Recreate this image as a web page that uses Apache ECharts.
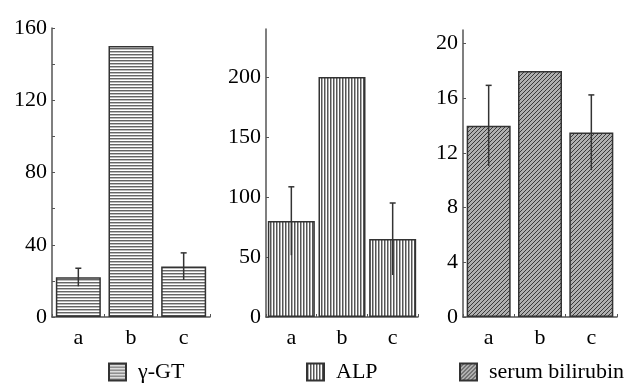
<!DOCTYPE html>
<html>
<head>
<meta charset="utf-8">
<script src="https://cdn.jsdelivr.net/npm/echarts@6/dist/echarts.min.js"></script>
<style>
  html, body { margin: 0; padding: 0; background: #fff; }
  #chart { width: 636px; height: 385px; }
</style>
</head>
<body>
<div id="chart"></div>
<script>
// data
var categories = ['a', 'b', 'c'];
var ggtValues = [22, 150, 28];
var ggtErrors = [5, 0, 7.5];
var alpValues = [80, 200, 65];
var alpErrors = [28.5, 0, 30];
var bilValues = [14, 18, 13.5];
var bilErrors = [2.95, 0, 2.75];
var ggtTicks = [0, 40, 80, 120, 160];
var alpTicks = [0, 50, 100, 150, 200];
var bilTicks = [0, 4, 8, 12, 16, 20];

var FONT = '"Liberation Serif", "DejaVu Serif", serif';
var INK = '#333';

// hatch patterns
function makePattern(kind) {
  var c = document.createElement('canvas');
  var ctx = c.getContext('2d');
  if (kind === 'h') {
    c.width = 6; c.height = 3;
    ctx.fillStyle = '#fff'; ctx.fillRect(0, 0, 6, 3);
    ctx.fillStyle = '#666'; ctx.fillRect(0, 0, 6, 1);
    ctx.fillStyle = '#bbb'; ctx.fillRect(0, 1, 6, 1);
  } else if (kind === 'v') {
    c.width = 3; c.height = 6;
    ctx.fillStyle = '#fff'; ctx.fillRect(0, 0, 3, 6);
    ctx.fillStyle = '#555'; ctx.fillRect(0, 0, 1, 6);
    ctx.fillStyle = '#aaa'; ctx.fillRect(1, 0, 1, 6);
  } else {
    c.width = 4; c.height = 4;
    ctx.fillStyle = '#b0b0b0'; ctx.fillRect(0, 0, 4, 4);
    ctx.fillStyle = '#3a3a3a';
    for (var i = 0; i < 4; i++) ctx.fillRect(i, 3 - i, 1, 1);
  }
  return { image: c, repeat: 'repeat' };
}

function errBars(vals, errs) {
  return vals.map(function (v, i) { return [i, v, errs[i]]; });
}

function renderErr(params, api) {
  var e = api.value(2);
  if (!e) return;
  var i = api.value(0), v = api.value(1);
  var top = api.coord([i, v + e]);
  var bot = api.coord([i, v - e]);
  var st = { stroke: INK, lineWidth: 1.5 };
  return {
    type: 'group',
    children: [
      { type: 'line', shape: { x1: top[0], y1: top[1], x2: bot[0], y2: bot[1] }, style: st },
      { type: 'line', shape: { x1: top[0] - 3, y1: top[1], x2: top[0] + 3, y2: top[1] }, style: st }
    ]
  };
}

function xAxisFor(idx) {
  return {
    type: 'category', gridIndex: idx, data: categories,
    axisLine: { lineStyle: { color: '#555', width: 1.5 } },
    axisTick: { show: true, inside: true, length: 3, lineStyle: { color: '#555' } },
    axisLabel: { fontFamily: FONT, fontSize: 22, color: '#000', margin: 10 }
  };
}

function yAxisFor(idx, max, labelVals, tickVals) {
  return {
    type: 'value', gridIndex: idx, min: 0, max: max,
    splitLine: { show: false },
    axisLine: { show: true, lineStyle: { color: '#555', width: 1.5 } },
    axisTick: { show: true, inside: true, length: 3, customValues: tickVals, lineStyle: { color: '#555' } },
    axisLabel: { fontFamily: FONT, fontSize: 22, color: '#000', margin: 5, customValues: labelVals }
  };
}

function legendFor(name, left) {
  return {
    data: [name], left: left, top: 361, padding: 0,
    icon: 'rect', itemWidth: 17, itemHeight: 17, itemGap: 0,
    textStyle: { fontFamily: FONT, fontSize: 22, color: '#000', padding: [0, 0, 0, 7] }
  };
}

var chart = echarts.init(document.getElementById('chart'));
var barBorder = { borderColor: INK, borderWidth: 1.5 };

chart.setOption({
  animation: false,
  backgroundColor: '#fff',
  grid: [
    { left: 52, top: 28, width: 158, height: 289 },
    { left: 266, top: 29, width: 152, height: 288 },
    { left: 463, top: 30, width: 154, height: 287 }
  ],
  xAxis: [xAxisFor(0), xAxisFor(1), xAxisFor(2)],
  yAxis: [
    yAxisFor(0, 160, ggtTicks, [0, 20, 40, 60, 80, 100, 120, 140, 160]),
    yAxisFor(1, 240, alpTicks, alpTicks),
    yAxisFor(2, 21, bilTicks, bilTicks)
  ],
  legend: [
    legendFor('γ-GT', 108),
    legendFor('ALP', 306),
    legendFor('serum bilirubin', 459)
  ],
  series: [
    { name: 'γ-GT', type: 'bar', xAxisIndex: 0, yAxisIndex: 0, barWidth: 45, data: ggtValues,
      itemStyle: Object.assign({ color: makePattern('h') }, barBorder) },
    { name: 'ALP', type: 'bar', xAxisIndex: 1, yAxisIndex: 1, barWidth: 47, data: alpValues,
      itemStyle: Object.assign({ color: makePattern('v') }, barBorder) },
    { name: 'serum bilirubin', type: 'bar', xAxisIndex: 2, yAxisIndex: 2, barWidth: 44, data: bilValues,
      itemStyle: Object.assign({ color: makePattern('d') }, barBorder) },
    { type: 'custom', xAxisIndex: 0, yAxisIndex: 0, renderItem: renderErr, encode: { x: 0, y: 1 },
      data: errBars(ggtValues, ggtErrors), z: 5 },
    { type: 'custom', xAxisIndex: 1, yAxisIndex: 1, renderItem: renderErr, encode: { x: 0, y: 1 },
      data: errBars(alpValues, alpErrors), z: 5 },
    { type: 'custom', xAxisIndex: 2, yAxisIndex: 2, renderItem: renderErr, encode: { x: 0, y: 1 },
      data: errBars(bilValues, bilErrors), z: 5 }
  ]
});
</script>
</body>
</html>
